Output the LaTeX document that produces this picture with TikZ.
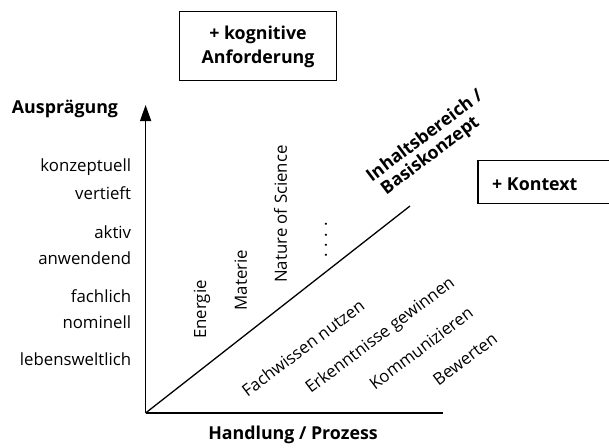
\documentclass[tikz,border=0pt]{standalone}
\usepackage{fontspec}
\setmainfont{Open Sans}
\usetikzlibrary{arrows.meta}
\begin{document}
\begin{tikzpicture}[x=1pt,y=-1pt,
  lbl/.style={font=\fontsize{16.8}{19}\selectfont, inner sep=0pt},
  bld/.style={font=\fontsize{17.8}{24}\selectfont\bfseries, inner sep=0pt},
  frame/.style={draw, line width=1.2pt, inner sep=0pt},
  axis/.style={line width=1.5pt},
  rot/.style={lbl, rotate=90},
  diag/.style={lbl, rotate=37}]
\useasboundingbox (0,0) rectangle (609,447);
% boxes
\node[frame, minimum width=157pt, minimum height=69pt] (kog) at (258,46.3) {};
\node[bld, align=center] (kogt) at (258,47) {+ kognitive\\Anforderung};
\node[frame, minimum width=134pt, minimum height=43pt] (kon) at (545,182.3) {};
\node[bld, anchor=west] (kont) at (492,184) {+ Kontext};
% axes
\coordinate (o) at (145.6,413);
\coordinate (ytop) at (145.6,105);
\coordinate (xend) at (443,413);
\coordinate (dend) at (410,206);
\draw[axis, -{Triangle[length=16pt,width=11pt]}] (o) -- (ytop);
\draw[axis] (o) -- (xend);
\draw[line width=1.3pt] (o) -- (dend);
% axis titles
\node[bld] (ausp) at (65,109) {Ausprägung};
\node[bld] (hand) at (293,435) {Handlung / Prozess};
% left labels
\node[lbl, anchor=east] (k1) at (131.3,166.7) {konzeptuell};
\node[lbl, anchor=east] (k2) at (131.3,193.3) {vertieft};
\node[lbl, anchor=east] (k3) at (131.3,231.7) {aktiv};
\node[lbl, anchor=east] (k4) at (131.3,257.7) {anwendend};
\node[lbl, anchor=east] (k5) at (131.3,295.7) {fachlich};
\node[lbl, anchor=east] (k6) at (131.3,321.7) {nominell};
\node[lbl, anchor=east] (k7) at (131.3,359) {lebensweltlich};
% content areas
\node[rot] (en) at (202,309.5) {Energie};
\node[rot] (ma) at (240.8,280) {Materie};
\node[rot] (ns) at (280.4,214) {Nature of Science};
\node[rot] (dots) at (326,240) {. . . .};
% processes
\node[diag] (fw) at (303,348) {Fachwissen nutzen};
\node[diag] (eg) at (380.6,336) {Erkenntnisse gewinnen};
\node[diag] (ko) at (421,348) {Kommunizieren};
\node[diag] (bw) at (465,359) {Bewerten};
% diagonal title
\node[bld, rotate=37] (ib) at (424,135) {Inhaltsbereich /};
\node[bld, rotate=37] (bk) at (430.5,156) {Basiskonzept};
\end{tikzpicture}
\end{document}
